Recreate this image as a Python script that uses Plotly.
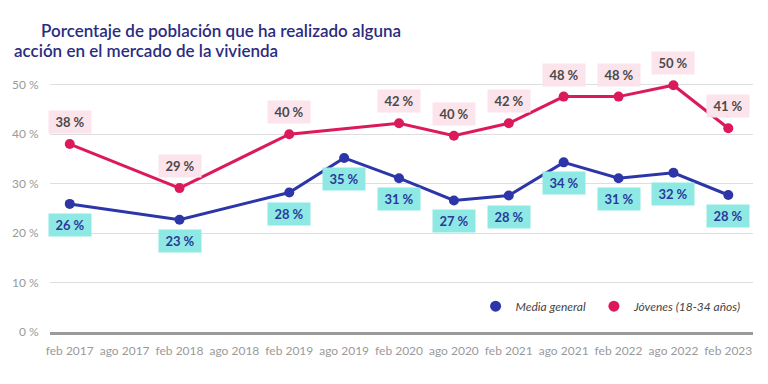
import plotly.graph_objects as go

periods = ["feb 2017", "ago 2017", "feb 2018", "ago 2018", "feb 2019", "ago 2019",
           "feb 2020", "ago 2020", "feb 2021", "ago 2021", "feb 2022", "ago 2022", "feb 2023"]
media_general = [25.9, None, 22.7, None, 28.2, 35.2, 31.1, 26.6, 27.6, 34.3, 31.1, 32.2, 27.7]
jovenes = [38.0, None, 29.1, None, 40.0, None, 42.2, 39.7, 42.2, 47.6, 47.6, 49.9, 41.2]
yticks = [0, 10, 20, 30, 40, 50]

BLUE = "#2c36a8"
PINK = "#dc1a5b"
FONT = "Lato"

xs = list(range(len(periods)))

fig = go.Figure()
fig.add_trace(go.Scatter(x=xs, y=jovenes, mode="lines+markers", connectgaps=True,
                         line=dict(color=PINK, width=3), marker=dict(size=10, color=PINK),
                         showlegend=False, cliponaxis=False, hoverinfo="skip"))
fig.add_trace(go.Scatter(x=xs, y=media_general, mode="lines+markers", connectgaps=True,
                         line=dict(color=BLUE, width=3), marker=dict(size=10, color=BLUE),
                         showlegend=False, cliponaxis=False, hoverinfo="skip"))
# legend-only entries (dots), each in its own legend box
fig.add_trace(go.Scatter(x=[None], y=[None], mode="markers", name="Media general",
                         marker=dict(size=11, color=BLUE), legend="legend"))
fig.add_trace(go.Scatter(x=[None], y=[None], mode="markers", name="Jóvenes (18-34 años)",
                         marker=dict(size=11, color=PINK), legend="legend2"))

annotations = []
for x, v in zip(xs, jovenes):
    if v is None:
        continue
    annotations.append(dict(x=x, y=v, xref="x", yref="y", text=f"{round(v)} %", showarrow=False,
                            yshift=22, bgcolor="#fce4ec", width=42, height=22, borderpad=0,
                            font=dict(family=FONT, size=13, color="#4a4a4a", weight="bold")))
for x, v in zip(xs, media_general):
    if v is None:
        continue
    annotations.append(dict(x=x, y=v, xref="x", yref="y", text=f"{round(v)} %", showarrow=False,
                            yshift=-21, bgcolor="#8ee9e4", width=42, height=22, borderpad=0,
                            font=dict(family=FONT, size=13, color="#2a3a9a", weight="bold")))

# title (first line indented, as in the original)
annotations.append(dict(xref="paper", yref="paper", x=-0.015, y=1.0, yshift=17, xanchor="left",
                        yanchor="bottom", showarrow=False,
                        text="Porcentaje de población que ha realizado alguna",
                        font=dict(family=FONT, size=17, color="#2b2c80", weight=600)))
annotations.append(dict(xref="paper", yref="paper", x=-0.0535, y=1.0, yshift=-3, xanchor="left",
                        yanchor="bottom", showarrow=False,
                        text="acción en el mercado de la vivienda",
                        font=dict(family=FONT, size=17, color="#2b2c80", weight=600)))

legend_style = dict(orientation="h", yanchor="middle", y=0.095, xanchor="left",
                    font=dict(family=FONT, size=12, color="#444444", style="italic"),
                    bgcolor="rgba(0,0,0,0)", itemwidth=30)

fig.update_layout(
    width=768, height=384,
    margin=dict(l=46, r=15, t=60, b=52),
    paper_bgcolor="white", plot_bgcolor="white",
    font=dict(family=FONT),
    annotations=annotations,
    legend=dict(x=0.6054, **legend_style),
    legend2=dict(x=0.7737, **legend_style),
    xaxis=dict(range=[-0.36, 12.45], tickvals=xs, ticktext=periods, showgrid=False,
               zeroline=False, showline=True, linecolor="#9a9a9a", linewidth=3,
               ticks="outside", ticklen=6, tickcolor="rgba(0,0,0,0)",
               tickfont=dict(family=FONT, size=12, color="#9a9a9a"), fixedrange=True),
    yaxis=dict(range=[0, 55], tickvals=yticks, ticktext=[f"{t} %" for t in yticks],
               showgrid=True, gridcolor="#dedede", gridwidth=1, zeroline=False,
               ticks="outside", ticklen=8, tickcolor="rgba(0,0,0,0)",
               tickfont=dict(family=FONT, size=12, color="#9a9a9a"), fixedrange=True),
)

fig.write_html("out.html", config={"displayModeBar": False},
               post_script="document.body.style.margin='0';")
